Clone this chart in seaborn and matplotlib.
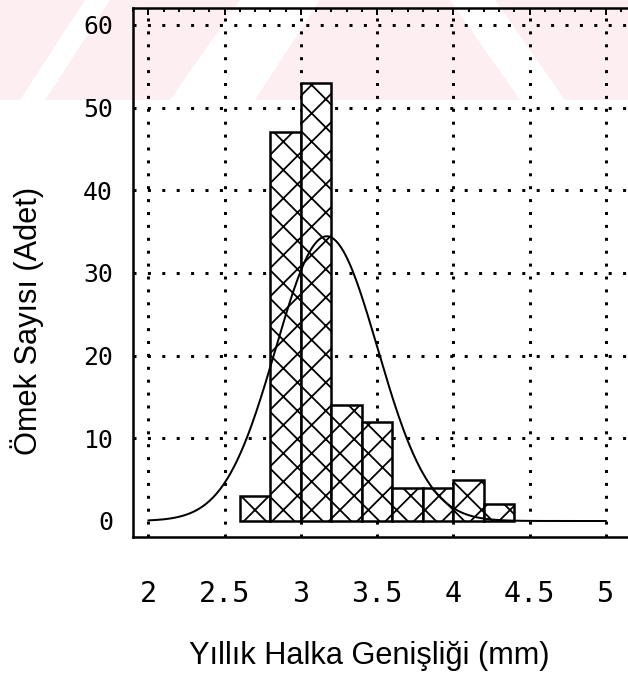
import numpy as np
import pandas as pd
import matplotlib
matplotlib.use("Agg")
import matplotlib.pyplot as plt
from matplotlib.patches import Polygon
import seaborn as sns

# ---- data ----
bin_centers = [2.7, 2.9, 3.1, 3.3, 3.5, 3.7, 3.9, 4.1, 4.3]
counts = [3, 47, 53, 14, 12, 4, 4, 5, 2]
bin_width = 0.2
x_ticks = [2, 2.5, 3, 3.5, 4, 4.5, 5]
x_tick_labels = ["2", "2.5", "3", "3.5", "4", "4.5", "5"]
y_ticks = [0, 10, 20, 30, 40, 50, 60]
y_tick_labels = ["0", "10", "20", "30", "40", "50", "60"]
x_label = "Yıllık Halka Genişliği (mm)"
y_label = "Ömek Sayısı (Adet)"

DPI = 170
W, H = 628, 675
PT = 72.0 / DPI  # points per pixel

sns.set_style("white")
plt.rcParams["hatch.linewidth"] = 1.8 * PT
plt.rcParams["hatch.color"] = "black"
plt.rcParams["font.family"] = ["Liberation Sans", "DejaVu Sans"]
plt.rcParams["text.color"] = "black"
plt.rcParams["axes.labelcolor"] = "black"
plt.rcParams["xtick.color"] = "black"
plt.rcParams["ytick.color"] = "black"

fig = plt.figure(figsize=(W / DPI, H / DPI), dpi=DPI)
fig.patch.set_facecolor("white")

# faint pink scan watermark band at the top
def px_poly(pts, color):
    verts = [(x / W, 1 - y / H) for x, y in pts]
    fig.patches.append(Polygon(verts, closed=True, transform=fig.transFigure,
                               facecolor=color, edgecolor="none", zorder=-5))

px_poly([(0, 0), (W, 0), (W, 100), (0, 100)], "#fdeef1")
px_poly([(20, 100), (45, 100), (110, 0), (85, 0)], "white")
px_poly([(170, 100), (255, 100), (320, 0), (240, 0)], "white")
px_poly([(450, 0), (495, 0), (565, 100), (520, 100)], "white")

ax = fig.add_axes([133 / W, 1 - 537 / H, (W - 133) / W, (537 - 8) / H])
ax.set_facecolor("none")

# grid (dotted)
for xv in x_ticks:
    ax.axvline(xv, color="black", lw=3 * PT, ls=(0, (1, 3.3)), zorder=0.5,
               dash_capstyle="butt")
for yv in y_ticks[1:]:
    ax.axhline(yv, color="black", lw=3 * PT, ls=(0, (1, 3.8)), zorder=0.5,
               dash_capstyle="butt")

# histogram bars
df = pd.DataFrame({"center": bin_centers, "count": counts})
edges = [round(bin_centers[0] - bin_width / 2 + i * bin_width, 3)
         for i in range(len(bin_centers) + 1)]
sns.histplot(data=df, x="center", weights="count", bins=edges, ax=ax,
             stat="count", color="white", edgecolor="black",
             linewidth=2.5 * PT, hatch="xx", alpha=1, zorder=2)

# fitted normal curve from the histogram data
c = np.array(bin_centers)
n = np.array(counts)
N = n.sum()
mu = (c * n).sum() / N
sd = np.sqrt(((c - mu) ** 2 * n).sum() / N)
xs = np.linspace(2.0, 5.0, 400)
ys = N * bin_width * np.exp(-0.5 * ((xs - mu) / sd) ** 2) / (sd * np.sqrt(2 * np.pi))
sns.lineplot(x=xs, y=ys, ax=ax, color="black", lw=2 * PT, zorder=3)

# limits: x=2 at px148, x=5 at px606 ; y=0 at px521, y=60 at px25
pxx = (606 - 148) / 3.0
pxy = (521 - 25) / 60.0
ax.set_xlim(2 - (148 - 133) / pxx, 2 + (W - 148) / pxx)
ax.set_ylim(-(537 - 521) / pxy, 60 + (25 - 8) / pxy)

ax.set_xticks(x_ticks)
ax.set_xticklabels(x_tick_labels)
ax.set_yticks(y_ticks)
ax.set_yticklabels(y_tick_labels)
ax.set_xticks(np.round(np.arange(1.9, 5.15, 0.1), 2), minor=True)
ax.set_yticks(np.arange(0, 62, 2), minor=True)

ax.tick_params(axis="both", which="both", direction="in", width=2 * PT,
               color="black", labelcolor="black")
ax.tick_params(axis="x", which="major", length=7 * PT, pad=43 * PT, top=True,
               labelsize=12)
ax.tick_params(axis="x", which="minor", length=3.5 * PT, top=True)
ax.tick_params(axis="y", which="major", length=8 * PT, pad=20 * PT, labelsize=10.5)
ax.tick_params(axis="y", which="minor", length=4 * PT)
for lab in ax.get_xticklabels() + ax.get_yticklabels():
    lab.set_fontfamily(["DejaVu Sans Mono"])

for side in ["left", "bottom", "top"]:
    ax.spines[side].set_visible(True)
    ax.spines[side].set_linewidth(2.5 * PT)
    ax.spines[side].set_color("black")
ax.spines["right"].set_visible(False)

ax.set_xlabel(x_label, fontsize=13, va="center", color="black")
ax.set_ylabel(y_label, fontsize=13, va="center", color="black")
ax.xaxis.set_label_coords(369 / W, 1 - 656 / H, transform=fig.transFigure)
ax.yaxis.set_label_coords(27 / W, 1 - 321 / H, transform=fig.transFigure)

fig.savefig("out.png", dpi=DPI, facecolor="white")
